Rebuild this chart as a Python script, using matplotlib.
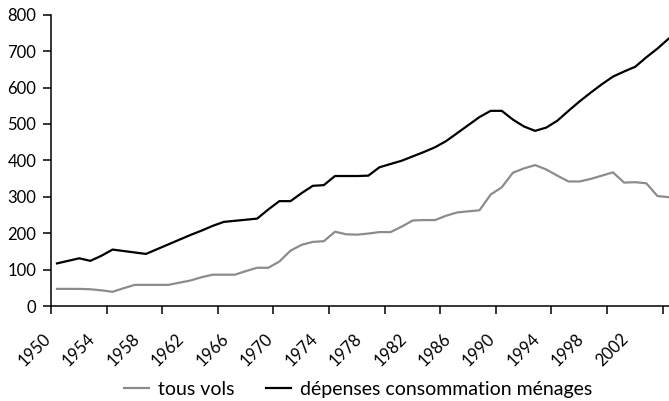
import matplotlib
matplotlib.use("Agg")
import matplotlib.pyplot as plt
import matplotlib.transforms as mtransforms

plt.rcParams['font.family'] = ['Lato', 'DejaVu Sans']

# Données (1950-2005)
annees = list(range(1950, 2006))
depenses = [117, 124, 131, 124, 138, 155, 151, 147, 143, 156,
            169, 182, 195, 207, 220, 231, 234, 237, 240, 265,
            288, 288, 310, 330, 332, 357, 357, 357, 358, 381,
            390, 399, 411, 423, 436, 453, 475, 497, 519, 536,
            536, 512, 493, 481, 490, 509, 536, 562, 586, 609,
            630, 644, 657, 683, 707, 734]
tous_vols = [47, 47, 47, 46, 43, 39, 49, 58, 58, 58,
             58, 64, 70, 79, 86, 86, 86, 96, 105, 105,
             122, 152, 168, 176, 178, 204, 197, 196, 199, 203,
             203, 218, 235, 236, 236, 248, 257, 260, 263, 306,
             326, 366, 378, 387, 375, 358, 342, 342, 349, 358,
             367, 339, 340, 337, 302, 299]
etiquettes_x = list(range(1950, 2003, 4))
graduations_y = list(range(0, 801, 100))

fig = plt.figure(figsize=(6.69, 4.01), dpi=100)
ax = fig.add_axes([0.0762, 0.2369, 0.9238, 0.7264])

ax.plot(annees, tous_vols, color='#8c8c8c', lw=1.6, label='tous vols')
ax.plot(annees, depenses, color='black', lw=1.6, label='dépenses consommation ménages')

x0, x1 = 1949.46, 2005.04
ax.set_xlim(x0, x1)
ax.set_ylim(0, 800)

# étiquettes tous les 4 ans, traits de graduation tous les 5 ans
ax.set_xticks(etiquettes_x)
ax.set_xticklabels([str(a) for a in etiquettes_x], rotation=45, ha='right',
                   va='center', rotation_mode='anchor', fontsize=12)
ax.set_xticks([x0 + 5 * k for k in range(12)], minor=True)
ax.tick_params(axis='x', which='major', length=0, pad=22)
ax.tick_params(axis='x', which='minor', length=6, width=1.1, direction='out')
decal = mtransforms.ScaledTranslation(-9 / 100, 0, fig.dpi_scale_trans)
for lab in ax.get_xticklabels():
    lab.set_transform(lab.get_transform() + decal)

ax.set_yticks(graduations_y)
ax.tick_params(axis='y', length=6, width=1.1, pad=4.5, labelsize=12)

for s in ['top', 'right']:
    ax.spines[s].set_visible(False)
for s in ['left', 'bottom']:
    ax.spines[s].set_linewidth(1.1)

fig.legend(loc='center', bbox_to_anchor=(0.535, 0.028), ncol=2, frameon=False,
           fontsize=14, handlelength=1.3, handletextpad=0.45, columnspacing=1.6)

fig.savefig('out.png', dpi=100)
